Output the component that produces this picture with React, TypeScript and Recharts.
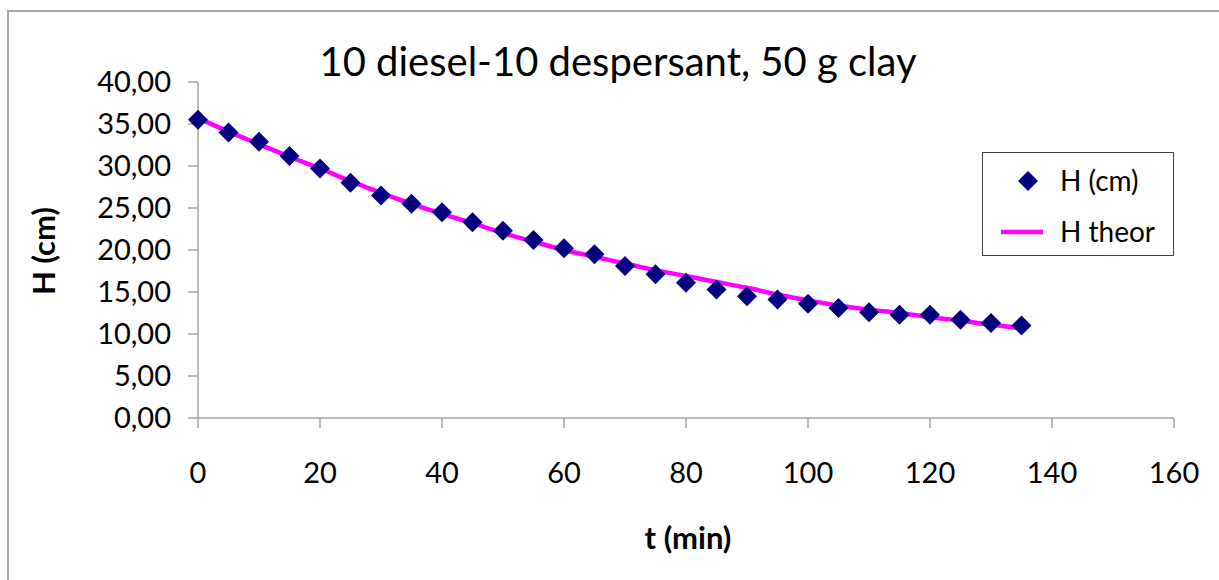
import React from 'react';
import {
  ComposedChart,
  Line,
  Scatter,
  XAxis,
  YAxis,
  Legend,
} from 'recharts';

const chartTitle = '10 diesel-10 despersant, 50 g clay';
const xTitle = 't (min)';
const yTitle = 'H (cm)';
const measuredName = 'H (cm)';
const theorName = 'H theor';

const times = [0, 5, 10, 15, 20, 25, 30, 35, 40, 45, 50, 55, 60, 65, 70, 75, 80, 85, 90, 95, 100, 105, 110, 115, 120, 125, 130, 135];
const hMeasured = [35.5, 34.0, 32.9, 31.2, 29.7, 28.0, 26.5, 25.5, 24.5, 23.3, 22.3, 21.2, 20.2, 19.5, 18.1, 17.1, 16.1, 15.3, 14.5, 14.1, 13.6, 13.1, 12.6, 12.3, 12.3, 11.7, 11.3, 11.0];
const hTheor = [35.7, 34.1, 32.6, 31.1, 29.7, 28.2, 26.8, 25.5, 24.3, 23.2, 22.0, 21.0, 20.0, 19.2, 18.4, 17.6, 16.9, 16.2, 15.5, 14.7, 14.0, 13.4, 12.9, 12.5, 12.0, 11.6, 11.1, 10.7];

const xTicks = [0, 20, 40, 60, 80, 100, 120, 140, 160];
const yTicks = [0, 5, 10, 15, 20, 25, 30, 35, 40];

const rows = times.map((t, i) => ({ t, h: hMeasured[i], theor: hTheor[i] }));

const NAVY = '#000080';
const MAGENTA = '#ff00ff';
const AXIS = '#a6a6a6';
const FONT = 'Lato, "Open Sans", sans-serif';

function Diamond({ cx, cy }: { cx?: number; cy?: number }) {
  if (cx == null || cy == null) return null;
  const r = 10;
  return <polygon points={`${cx},${cy - r} ${cx + r},${cy} ${cx},${cy + r} ${cx - r},${cy}`} fill={NAVY} />;
}

function LegendBox() {
  return (
    <div
      style={{
        width: 190,
        height: 102,
        border: '1px solid #404040',
        background: '#fff',
        fontFamily: FONT,
        fontSize: 28,
        lineHeight: '32px',
        color: '#000',
        position: 'relative',
      }}
    >
      <svg width={60} height={100} style={{ position: 'absolute', left: 0, top: 0 }}>
        <polygon points="45,18 55,28 45,38 35,28" fill={NAVY} />
        <line x1={18} y1={79} x2={72} y2={79} stroke={MAGENTA} strokeWidth={4.5} />
      </svg>
      <div style={{ position: 'absolute', left: 77, top: 11, whiteSpace: 'nowrap' }}>{measuredName}</div>
      <div style={{ position: 'absolute', left: 77, top: 62, whiteSpace: 'nowrap' }}>{theorName}</div>
    </div>
  );
}

export default function App() {
  const tick = { fontSize: 29, fill: '#000', fontFamily: FONT };
  return (
    <div style={{ position: 'fixed', left: 0, top: 0, width: 1219, height: 580, background: '#fff', overflow: 'hidden' }}>
      <div
        style={{
          position: 'absolute',
          left: 7,
          top: 10,
          width: 1219,
          height: 580,
          borderLeft: `2px solid ${AXIS}`,
          borderTop: `2px solid ${AXIS}`,
        }}
      />
      <div style={{ position: 'absolute', left: 0, top: 0 }}>
        <ComposedChart width={1219} height={580} data={rows} margin={{ top: 82, right: 45, bottom: 0, left: 0 }}>
          <XAxis
            type="number"
            dataKey="t"
            domain={[0, 160]}
            ticks={xTicks}
            interval={0}
            tick={tick}
            tickSize={10}
            tickMargin={34}
            height={162}
            stroke={AXIS}
            strokeWidth={1.5}
          />
          <YAxis
            type="number"
            domain={[0, 40]}
            ticks={yTicks}
            interval={0}
            tick={tick}
            tickSize={10}
            tickMargin={17}
            width={198}
            stroke={AXIS}
            strokeWidth={1.5}
            tickFormatter={(v: number) => v.toFixed(2).replace('.', ',')}
          />
          <Line
            type="monotone"
            dataKey="theor"
            name={theorName}
            stroke={MAGENTA}
            strokeWidth={4.5}
            dot={false}
            isAnimationActive={false}
          />
          <Scatter dataKey="h" name={measuredName} fill={NAVY} shape={<Diamond />} isAnimationActive={false} />
          <Legend
            layout="vertical"
            align="center"
            verticalAlign="middle"
            content={<LegendBox />}
            wrapperStyle={{ position: 'absolute', left: 982, top: 152, width: 192, height: 104, bottom: 'auto', right: 'auto' }}
          />
        </ComposedChart>
      </div>
      <svg width={1219} height={580} style={{ position: 'absolute', left: 0, top: 0, pointerEvents: 'none' }}>
        <text x={618} y={76} textAnchor="middle" fontFamily={FONT} fontSize={40} fill="#000">
          {chartTitle}
        </text>
        <text x={688} y={549} textAnchor="middle" fontFamily={FONT} fontSize={31} fontWeight="bold" fill="#000">
          {xTitle}
        </text>
        <text
          x={0}
          y={0}
          transform="translate(55 251) rotate(-90)"
          textAnchor="middle"
          fontFamily={FONT}
          fontSize={31}
          fontWeight="bold"
          fill="#000"
        >
          {yTitle}
        </text>
      </svg>
    </div>
  );
}
